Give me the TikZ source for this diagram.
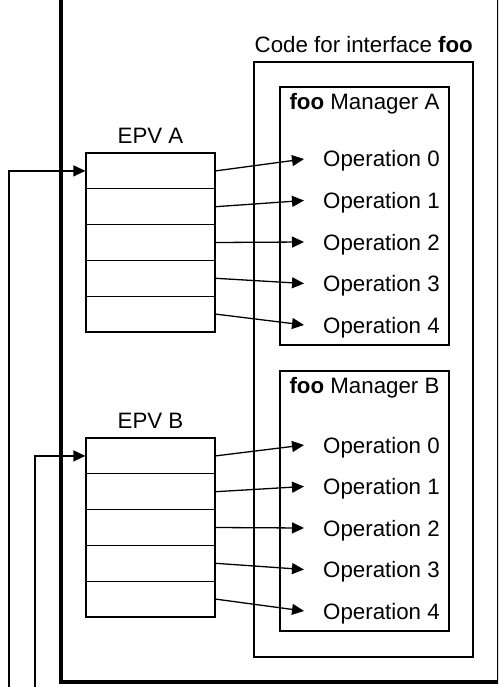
\documentclass[tikz,border=0pt]{standalone}
\usepackage{fontspec}
\setmainfont{Liberation Sans}
\usetikzlibrary{arrows.meta}
\begin{document}
\begin{tikzpicture}[x=1pt,y=-1pt,
  thin line/.style={line width=1.3pt},
  box/.style={draw,thin line,inner sep=0pt},
  eprow/.style={draw,thin line,inner sep=0pt,minimum width=129pt,minimum height=35.8pt},
  arr/.style={thin line,-{Triangle[length=12pt,width=11pt]}},
  lbl/.style={inner sep=0pt,anchor=base,font=\fontsize{22.3}{26}\selectfont},
  opn/.style={inner ysep=0pt,inner xsep=19pt,anchor=base west,text height=16pt,text depth=0pt,font=\fontsize{22.3}{26}\selectfont}]
\clip (0,0) rectangle (498,687);
\useasboundingbox (0,0) rectangle (498,687);
\fill[white] (0,0) rectangle (498,687);
% outer thick frame
\draw[line width=3.5pt] (61,-20) |- (499,682) -- (499,-20);
% code box
\node[box,minimum width=219pt,minimum height=595pt] (code) at (363.5,359.5) {};
\node[lbl,anchor=base east] (codelbl) at (473,53) {Code for interface \textbf{foo}};
% managers
\node[box,minimum width=169pt,minimum height=258pt] (mA) at (364.5,216) {};
\node[lbl] (mAlbl) at (364.5,109.5) {\textbf{foo} Manager A};
\node[box,minimum width=169pt,minimum height=260pt] (mB) at (364.5,501) {};
\node[lbl] (mBlbl) at (364.5,393.5) {\textbf{foo} Manager B};
% EPV labels
\node[lbl] (epvAlbl) at (150.5,143.5) {EPV A};
\node[lbl] (epvBlbl) at (150.5,428) {EPV B};
% tables and operations
\foreach \i in {0,...,4}{
  \node[eprow] (eA\i) at (150.5,{153+35.8*(\i+0.5)}) {};
  \node[eprow] (eB\i) at (150.5,{438+35.8*(\i+0.5)}) {};
  \node[opn] (oA\i) at (304,{167+41.5*\i}) {Operation \i};
  \node[opn] (oB\i) at (304,{453+41.5*\i}) {Operation \i};
  \draw[arr] (eA\i.east) -- (oA\i.west);
  \draw[arr] (eB\i.east) -- (oB\i.west);
}
% incoming wires
\coordinate (wA) at (9,700);
\coordinate (wB) at (35,700);
\draw[arr] (wA) |- (eA0.west);
\draw[arr] (wB) |- (eB0.west);
\end{tikzpicture}
\end{document}
